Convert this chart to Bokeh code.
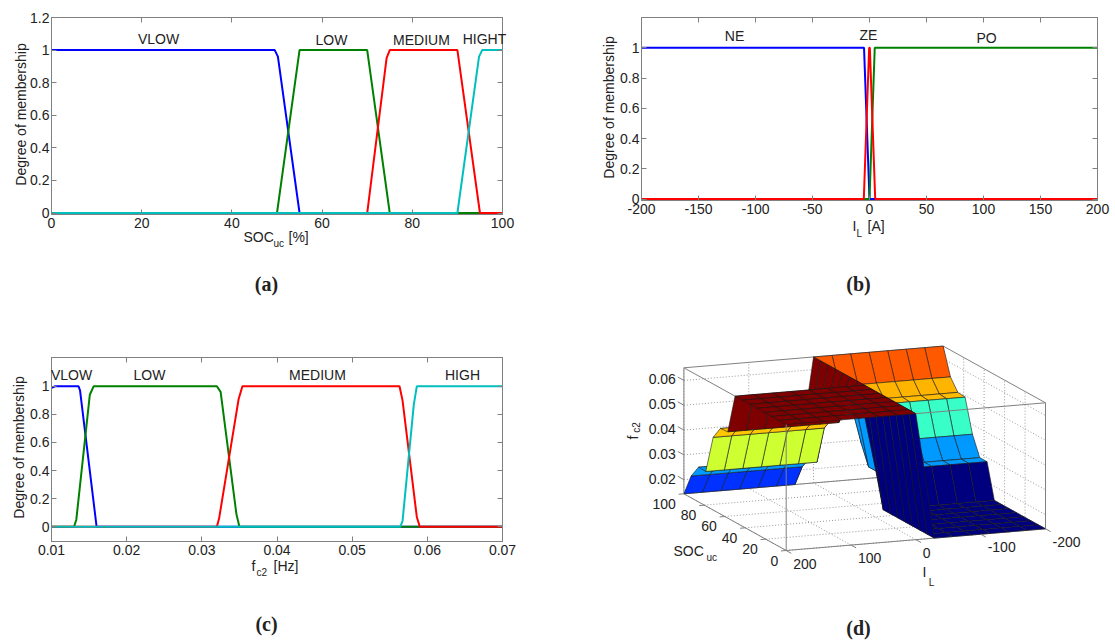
from bokeh.plotting import figure
from bokeh.models import ColumnDataSource, FixedTicker, Label, LinearAxis, Range1d
from bokeh.layouts import column, row
from bokeh.embed import file_html
from bokeh.resources import INLINE
import math

FONT = "Liberation Sans"
TEXT = "#222222"
GRAY = "#808080"
BLUE, GREEN, RED, CYAN = "#0000ff", "#008000", "#ff0000", "#00bfbf"

# (a) SOC_uc membership
a_vlow_x = [0, 49.5, 50.2, 55, 100]
a_vlow_y = [1, 1, 0.96, 0, 0]
a_low_x = [0, 50, 55, 70, 75, 100]
a_low_y = [0, 0, 1, 1, 0, 0]
a_med_x = [0, 70, 74.3, 75, 90, 95, 100]
a_med_y = [0, 0, 0.95, 1, 1, 0, 0]
a_high_x = [0, 90, 94.8, 95.5, 100]
a_high_y = [0, 0, 0.96, 1, 1]
a_xticks = [0, 20, 40, 60, 80, 100]
a_yticks = [0, 0.2, 0.4, 0.6, 0.8, 1, 1.2]
a_ylabels = ["0", "0.2", "0.4", "0.6", "0.8", "1", "1.2"]
a_names = ["VLOW", "LOW", "MEDIUM", "HIGHT"]

# (b) I_L membership
b_ne_x = [-200, -4.8, 0, 200]
b_ne_y = [1, 1, 0, 0]
b_po_x = [-200, 0, 4.6, 200]
b_po_y = [0, 0, 1, 1]
b_ze_x = [-200, -5, -0.3, 0.3, 5, 200]
b_ze_y = [0, 0, 1, 1, 0, 0]
b_xticks = [-200, -150, -100, -50, 0, 50, 100, 150, 200]
b_yticks = [0, 0.2, 0.4, 0.6, 0.8, 1]
b_ylabels = ["0", "0.2", "0.4", "0.6", "0.8", "1"]
b_names = ["NE", "ZE", "PO"]

# (c) f_c2 membership
c_vlow_x = [0.01, 0.0105, 0.0136, 0.0138, 0.016, 0.07]
c_vlow_y = [0.99, 1, 1, 0.97, 0, 0]
c_low_x = [0.01, 0.013, 0.0133, 0.0151, 0.0156, 0.032, 0.0325, 0.0346, 0.035, 0.07]
c_low_y = [0, 0, 0.05, 0.94, 1, 1, 0.96, 0.09, 0, 0]
c_med_x = [0.01, 0.032, 0.0323, 0.0349, 0.0354, 0.0563, 0.0567, 0.0586, 0.059, 0.07]
c_med_y = [0, 0, 0.06, 0.91, 1, 1, 0.9, 0.07, 0, 0]
c_high_x = [0.01, 0.0564, 0.0567, 0.0582, 0.0586, 0.07]
c_high_y = [0, 0, 0.04, 0.87, 1, 1]
c_xticks = [0.01, 0.02, 0.03, 0.04, 0.05, 0.06, 0.07]
c_xlabels = ["0.01", "0.02", "0.03", "0.04", "0.05", "0.06", "0.07"]
c_names = ["VLOW", "LOW", "MEDIUM", "HIGH"]

# (d) control surface, one profile against SOC on each side of the I_L = 0 ridge
d_il = [200, 171.4, 142.9, 114.3, 85.7, 57.1, 28.6, 0, -28.6, -57.1, -85.7, -114.3, -142.9, -171.4, -200]
d_soc = [0, 7.14, 14.3, 21.4, 28.6, 35.7, 42.9, 50, 57.1, 64.3, 71.4, 78.6, 85.7, 92.9, 100]
d_fc2_pos = [0.0651, 0.0651, 0.0651, 0.0651, 0.0651, 0.0651, 0.0651, 0.0651,
             0.0491, 0.0488, 0.0436, 0.0282, 0.0283, 0.0231, 0.0143]
d_fc2_neg = [0.0143, 0.0143, 0.0143, 0.0143, 0.0143, 0.0143, 0.0143, 0.0143,
             0.0283, 0.0283, 0.0361, 0.0494, 0.0497, 0.0543, 0.0651]
d_fc2_ridge = [0.0651] * 15
d_ztick = [0.02, 0.03, 0.04, 0.05, 0.06]
d_soctick = [0, 20, 40, 60, 80, 100]
d_iltick = [200, 100, 0, -100, -200]


def put(p, x, y, text, size=14, align="center", angle=0, font=FONT, style="normal", place="center"):
    # x, y are pixels from the top left of this figure's canvas. Only a label in a side panel
    # can lie outside the frame.
    lab = Label(x=x, y=y, x_units="canvas", y_units="canvas", text=text, angle=angle,
                text_font=font, text_font_size=f"{size}px", text_font_style=style,
                text_align=align, text_baseline="middle", text_color=TEXT)
    p.add_layout(lab, place)


def panel(w, h, left, right, top, bottom, x_range, y_range, xticks, xlabels, yticks, ylabels):
    p = figure(width=w, height=h, x_range=x_range, y_range=y_range, toolbar_location=None,
               output_backend="svg", min_border_left=left, min_border_right=right,
               min_border_top=top, min_border_bottom=bottom, frame_align=False)
    p.grid.visible = False
    p.outline_line_color = GRAY
    for ax, ticks, labels in [(p.xaxis[0], xticks, xlabels), (p.yaxis[0], yticks, ylabels)]:
        ax.ticker = FixedTicker(ticks=ticks)
        ax.major_label_overrides = dict(zip(ticks, labels))
        ax.major_tick_in = 5
        ax.major_tick_out = 0
        ax.minor_tick_line_color = None
        ax.major_tick_line_color = GRAY
        ax.axis_line_color = GRAY
        ax.major_label_text_font = FONT
        ax.major_label_text_font_size = "14px"
        ax.major_label_text_color = TEXT
    p.xaxis[0].major_label_standoff = 3
    p.yaxis[0].major_label_standoff = 2
    # matlab box: ticks on the top and right too, no numbers
    for ticks, side in [(xticks, "above"), (yticks, "right")]:
        ax = LinearAxis(ticker=FixedTicker(ticks=ticks), major_tick_in=5, major_tick_out=0,
                        major_label_overrides={t: "" for t in ticks}, minor_tick_line_color=None,
                        major_tick_line_color=GRAY, axis_line_color=GRAY, major_label_standoff=0)
        p.add_layout(ax, side)
    return p


# figure a: canvas at page (0, 0). The range starts just under 0 so the line on 0 keeps its width
pa = panel(560, 320, 51, 58, 17, 106, Range1d(0, 100), Range1d(-0.0092, 1.2), a_xticks,
           [str(t) for t in a_xticks], a_yticks, a_ylabels)
for xs, ys, c in [(a_vlow_x, a_vlow_y, BLUE), (a_low_x, a_low_y, GREEN), (a_med_x, a_med_y, RED), (a_high_x, a_high_y, CYAN)]:
    pa.line(xs, ys, line_color=c, line_width=2)
put(pa, 158, 38, a_names[0])
put(pa, 331, 39, a_names[1])
put(pa, 421, 39, a_names[2])
put(pa, 484, 38, a_names[3], place="right")
put(pa, 20, 114, "Degree of membership", angle=math.pi / 2, place="left")
put(pa, 243, 236, "SOC", align="left", place="below")
put(pa, 273, 243, "uc", size=10, align="left", place="below")
put(pa, 288, 236, "[%]", align="left", place="below")
put(pa, 266, 283, "(a)", size=20, font="Liberation Serif", style="bold", place="below")

# figure b: canvas at page (560, 0)
pb = panel(555, 320, 81, 18, 17, 120, Range1d(-200, 200), Range1d(-0.0099, 1.2), b_xticks,
           [str(t) for t in b_xticks], b_yticks, b_ylabels)
for xs, ys, c in [(b_ne_x, b_ne_y, BLUE), (b_po_x, b_po_y, GREEN), (b_ze_x, b_ze_y, RED)]:
    pb.line(xs, ys, line_color=c, line_width=2)
for name, x, y in zip(b_names, [174, 308, 426], [35, 34, 37]):
    put(pb, x, y, name)
put(pb, 48, 107, "Degree of membership", angle=math.pi / 2, place="left")
put(pb, 292, 225, "I", align="left", place="below")
put(pb, 296, 233, "L", size=10, align="left", place="below")
put(pb, 307, 225, "[A]", align="left", place="below")
put(pb, 298, 283, "(b)", size=20, font="Liberation Serif", style="bold", place="below")

# figure c: canvas at page (0, 320)
pc = panel(560, 321, 51, 58, 37, 100, Range1d(0.01, 0.07), Range1d(-0.105, 1.205), c_xticks, c_xlabels,
           b_yticks, b_ylabels)
for xs, ys, c in [(c_vlow_x, c_vlow_y, BLUE), (c_low_x, c_low_y, GREEN), (c_med_x, c_med_y, RED), (c_high_x, c_high_y, CYAN)]:
    pc.line(xs, ys, line_color=c, line_width=2)
put(pc, 71, 54, c_names[0], place="above")
put(pc, 149, 54, c_names[1])
put(pc, 317, 54, c_names[2])
put(pc, 462, 54, c_names[3])
put(pc, 18, 127, "Degree of membership", angle=math.pi / 2, place="left")
put(pc, 251, 245, "f", align="left", place="below")
put(pc, 256, 252, "c2", size=10, align="left", place="below")
put(pc, 273, 245, "[Hz]", align="left", place="below")
put(pc, 266, 303, "(c)", size=20, font="Liberation Serif", style="bold", place="below")


# figure d: the ranges are page pixels, the box is projected onto them
def jet(t):
    clip = lambda v: max(0.0, min(1.0, v))
    r = clip(min(4 * t - 1.5, -4 * t + 4.5))
    g = clip(min(4 * t - 0.5, -4 * t + 3.5))
    b = clip(min(4 * t + 0.5, -4 * t + 2.5))
    return "#%02x%02x%02x" % (int(r * 255), int(g * 255), int(b * 255))


Z_LOW, Z_HIGH = min(d_fc2_neg), max(d_fc2_neg)


def proj(il, soc, z):
    u = (200 - il) / 400
    v = soc / 100
    w = (z - Z_LOW) / (Z_HIGH - Z_LOW)
    return 785.7 + 259.3 * u - 102.3 * v, 550 - 21.7 * u - 56.7 * v - 126 * w


def poly3(points):
    pts = [proj(*pt) for pt in points]
    return [q[0] for q in pts], [q[1] for q in pts]


pd_ = figure(width=555, height=321, x_range=Range1d(560, 1115), y_range=Range1d(641, 320),
             toolbar_location=None, output_backend="svg", min_border=0, x_axis_location=None,
             y_axis_location=None, frame_align=False)
pd_.grid.visible = False
pd_.outline_line_color = None

# dotted grid on the floor and the two back walls
gx, gy = [], []
for z in d_ztick:
    xs, ys = poly3([(200, 100, z), (-200, 100, z), (-200, 0, z)])
    gx.append(xs)
    gy.append(ys)
for il in d_iltick:
    xs, ys = poly3([(il, 0, Z_LOW), (il, 100, Z_LOW), (il, 100, Z_HIGH)])
    gx.append(xs)
    gy.append(ys)
for soc in d_soctick:
    xs, ys = poly3([(200, soc, Z_LOW), (-200, soc, Z_LOW), (-200, soc, Z_HIGH)])
    gx.append(xs)
    gy.append(ys)
pd_.multi_line(gx, gy, line_color="#999999", line_width=1, line_dash="1 2")

# box edges behind the surface
back_edges = [
    [(200, 0, Z_LOW), (200, 100, Z_LOW), (-200, 100, Z_LOW), (-200, 0, Z_LOW), (200, 0, Z_LOW)],
    [(200, 100, Z_LOW), (200, 100, Z_HIGH), (-200, 100, Z_HIGH), (-200, 0, Z_HIGH), (-200, 0, Z_LOW)],
    [(-200, 100, Z_LOW), (-200, 100, Z_HIGH)],
    [(200, 100, Z_HIGH), (200, 50, Z_HIGH)],
]
for edge in back_edges:
    xs, ys = poly3(edge)
    pd_.line(xs, ys, line_color=GRAY, line_width=1)


def fc2(i, j):
    if d_il[i] > 0:
        return d_fc2_pos[j]
    if d_il[i] < 0:
        return d_fc2_neg[j]
    return d_fc2_ridge[j]


# far cells first so the nearer ones paint over them
cell_x, cell_y, cell_c = [], [], []
for j in range(len(d_soc) - 2, -1, -1):
    for i in range(len(d_il) - 2, -1, -1):
        xs, ys = poly3([(d_il[i], d_soc[j], fc2(i, j)), (d_il[i + 1], d_soc[j], fc2(i + 1, j)),
                        (d_il[i + 1], d_soc[j + 1], fc2(i + 1, j + 1)), (d_il[i], d_soc[j + 1], fc2(i, j + 1))])
        cell_x.append(xs)
        cell_y.append(ys)
        cell_c.append(jet((fc2(i + 1, j) - Z_LOW) / (Z_HIGH - Z_LOW)))
cells = ColumnDataSource(dict(xs=cell_x, ys=cell_y, c=cell_c))
pd_.patches("xs", "ys", source=cells, fill_color="c", line_color="#1a1a1a", line_width=0.6)

# the box edges that pass in front
for edge in [[(200, 0, Z_LOW), (200, 0, Z_HIGH)], [(0, 0, Z_HIGH), (-200, 0, Z_HIGH)]]:
    xs, ys = poly3(edge)
    pd_.line(xs, ys, line_color=GRAY, line_width=1)

# ticks and their numbers
for z in d_ztick:
    xs, ys = poly3([(200, 100, z), (200, 106, z)])
    pd_.line(xs, ys, line_color=GRAY, line_width=1)
    pd_.add_layout(Label(x=xs[0] - 8, y=ys[0] - 1, text="%.2f" % z, text_font=FONT, text_font_size="14px",
                         text_color=TEXT, text_align="right", text_baseline="middle"))
for soc in d_soctick:
    xs, ys = poly3([(200, soc, Z_LOW), (208, soc, Z_LOW)])
    pd_.line(xs, ys, line_color=GRAY, line_width=1)
    pd_.add_layout(Label(x=xs[0] - 8, y=ys[0] + 10, text=str(soc), text_font=FONT, text_font_size="14px",
                         text_color=TEXT, text_align="right", text_baseline="middle"))
for il in d_iltick:
    xs, ys = poly3([(il, 0, Z_LOW), (il, -5, Z_LOW)])
    pd_.line(xs, ys, line_color=GRAY, line_width=1)
    pd_.add_layout(Label(x=xs[0] + 7, y=ys[0] + 13, text=str(il), text_font=FONT, text_font_size="14px",
                         text_color=TEXT, text_align="left", text_baseline="middle"))

put(pd_, 72, 117, "f", angle=math.pi / 2)
put(pd_, 76, 107, "c2", size=10, angle=math.pi / 2)
put(pd_, 113, 230, "SOC", align="left")
put(pd_, 146, 237, "uc", size=10, align="left")
put(pd_, 364, 251, "I")
put(pd_, 371, 262, "L", size=10)
put(pd_, 298, 307, "(d)", size=20, font="Liberation Serif", style="bold")

page = column(row(pa, pb), row(pc, pd_))
open("out.html", "w").write(file_html(page, INLINE))
